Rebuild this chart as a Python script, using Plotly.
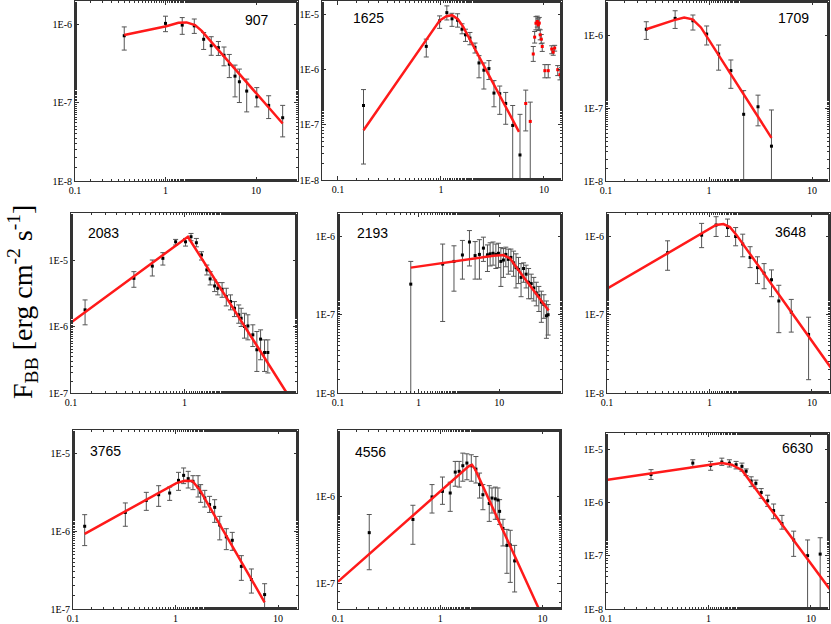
import plotly.graph_objects as go

# ---- data: energy (x) and F_BB (y) with error bounds ----

# GRB 907
x_907 = [0.35, 1.0, 1.53, 2.08, 2.64, 3.2, 3.84, 4.43, 5.07, 5.86, 6.55, 7.89, 10.2, 13.8, 19.7]
y_907 = [7.1e-7, 1.02e-6, 9.7e-7, 9.5e-7, 6.4e-7, 5.3e-7, 5.0e-7, 4.0e-7, 3.08e-7, 2.17e-7, 1.84e-7, 1.40e-7, 1.18e-7, 9.2e-8, 6.4e-8]
hi_907 = [9.2e-7, 1.26e-6, 1.21e-6, 1.16e-6, 7.8e-7, 6.9e-7, 6.0e-7, 5.1e-7, 4.1e-7, 3.0e-7, 2.67e-7, 1.99e-7, 1.55e-7, 1.22e-7, 9.2e-8]
lo_907 = [4.66e-7, 8.0e-7, 7.4e-7, 7.6e-7, 4.75e-7, 4.0e-7, 3.98e-7, 2.94e-7, 2.08e-7, 1.18e-7, 1.0e-7, 7.6e-8, 8.8e-8, 6.25e-8, 3.65e-8]
fx_907 = [0.35, 1.02, 1.39, 1.71, 2.12, 2.51, 19.7]
fy_907 = [7.24e-7, 9.4e-7, 1.04e-6, 1.05e-6, 9.7e-7, 8.2e-7, 5.4e-8]

# GRB 1625 (black points + red points above ~6 keV)
x_1625 = [0.177, 0.72, 0.97, 1.14, 1.28, 1.45, 1.6, 1.73, 1.91, 2.14, 2.34, 2.61, 2.92, 3.27, 3.72, 4.25, 4.97, 5.85]
y_1625 = [2.26e-7, 2.68e-6, 7.8e-6, 1.1e-5, 8.5e-6, 8.0e-6, 5.5e-6, 4.35e-6, 3.8e-6, 2.57e-6, 1.34e-6, 9.9e-7, 1.06e-6, 3.8e-7, 3.7e-7, 2.46e-7, 9.8e-8, 2.85e-8]
hi_1625 = [4.4e-7, 3.63e-6, 9.6e-6, 1.46e-5, 1.07e-5, 1.05e-5, 6.9e-6, 5.5e-6, 4.8e-6, 3.08e-6, 1.82e-6, 1.34e-6, 1.48e-6, 6.4e-7, 5.1e-7, 3.9e-7, 2.26e-7, 1.56e-7]
lo_1625 = [1.95e-8, 1.72e-6, 5.7e-6, 8.1e-6, 6.2e-6, 6.0e-6, 4.54e-6, 3.3e-6, 2.87e-6, 2.03e-6, 7.2e-7, 4.5e-7, 6.7e-7, 2.14e-7, 1.56e-7, 1.03e-7, 1e-9, 1e-9]
xr_1625 = [6.65, 7.36, 7.87, 8.12, 8.36, 8.61, 8.8, 9.0, 9.2, 9.41, 9.62, 10.2, 11.0, 11.9, 12.3, 12.7, 13.6, 14.3, 14.8]
yr_1625 = [2.46e-7, 1.16e-7, 1.95e-6, 3.95e-6, 7.07e-6, 7.6e-6, 6.6e-6, 7.1e-6, 4.35e-6, 3.63e-6, 2.67e-6, 9.7e-7, 9.7e-7, 2.4e-6, 2.11e-6, 2.5e-6, 1.01e-6, 8.2e-7, 9.06e-7]
hir_1625 = [4.3e-7, 2.6e-7, 2.67e-6, 5.0e-6, 9.3e-6, 9.5e-6, 8.5e-6, 9.0e-6, 5.36e-6, 4.4e-6, 3.08e-6, 1.25e-6, 1.25e-6, 2.75e-6, 2.45e-6, 2.8e-6, 1.2e-6, 1.0e-6, 1.1e-6]
lor_1625 = [7.8e-8, 1e-9, 1.43e-6, 3.08e-6, 5.36e-6, 6.0e-6, 5.2e-6, 5.5e-6, 3.53e-6, 3.0e-6, 2.17e-6, 7.2e-7, 7.2e-7, 1.97e-6, 1.85e-6, 2.2e-6, 7.9e-7, 6.6e-7, 7.4e-7]
fx_1625 = [0.177, 0.97, 1.13, 1.28, 1.46, 1.64, 5.72]
fy_1625 = [8.0e-8, 7.9e-6, 9.5e-6, 9.9e-6, 8.35e-6, 6.15e-6, 7.5e-8]

# GRB 1709
x_1709 = [0.246, 0.469, 0.698, 0.949, 1.24, 1.63, 2.17, 2.99, 4.04]
y_1709 = [1.2e-6, 1.69e-6, 1.57e-6, 1.03e-6, 5.5e-7, 3.25e-7, 8.2e-8, 1.04e-7, 3.0e-8]
hi_1709 = [1.52e-6, 2.15e-6, 1.88e-6, 1.33e-6, 7.3e-7, 4.55e-7, 1.73e-7, 1.5e-7, 9.4e-8]
lo_1709 = [8.7e-7, 1.23e-6, 1.17e-6, 7.3e-7, 3.3e-7, 1.86e-7, 1e-9, 5.7e-8, 1e-9]
fx_1709 = [0.246, 0.458, 0.574, 0.692, 0.835, 4.04]
fy_1709 = [1.2e-6, 1.6e-6, 1.73e-6, 1.64e-6, 1.27e-6, 3.9e-8]

# GRB 2083
x_2083 = [0.133, 0.358, 0.52, 0.644, 0.834, 1.02, 1.14, 1.27, 1.41, 1.57, 1.68, 1.84, 1.96, 2.14, 2.33, 2.54, 2.75, 3.0, 3.15, 3.37, 3.61, 3.99, 4.33, 4.67, 5.06, 5.41]
y_2083 = [1.78e-6, 5.3e-6, 8.1e-6, 1.06e-5, 1.88e-5, 1.88e-5, 2.24e-5, 1.82e-5, 1.19e-5, 7.1e-6, 5.2e-6, 4.07e-6, 3.76e-6, 3.63e-6, 2.82e-6, 2.37e-6, 1.88e-6, 1.5e-6, 1.33e-6, 1.0e-6, 1.02e-6, 7.5e-7, 4.47e-7, 6.46e-7, 4.07e-7, 4.07e-7]
hi_2083 = [2.51e-6, 6.68e-6, 1.0e-5, 1.29e-5, 2.04e-5, 2.11e-5, 2.51e-5, 2.11e-5, 1.33e-5, 8.4e-6, 6.68e-6, 5.0e-6, 4.57e-6, 4.57e-6, 3.76e-6, 2.99e-6, 2.37e-6, 2.11e-6, 1.88e-6, 1.58e-6, 1.5e-6, 1.06e-6, 8.4e-7, 8.9e-7, 6.3e-7, 6.3e-7]
lo_2083 = [1.06e-6, 3.89e-6, 5.75e-6, 8.4e-6, 1.68e-5, 1.62e-5, 1.95e-5, 1.58e-5, 1.0e-5, 5.96e-6, 4.22e-6, 3.35e-6, 2.99e-6, 2.75e-6, 2.04e-6, 1.78e-6, 1.41e-6, 1.12e-6, 1.0e-6, 6.68e-7, 6.3e-7, 5.0e-7, 2.11e-7, 3.16e-7, 2.11e-7, 2.0e-7]
fx_2083 = [0.1, 1.07, 7.94]
fy_2083 = [1.15e-6, 2.24e-5, 1.0e-7]

# GRB 2193
x_2193 = [0.80, 1.99, 2.75, 3.5, 4.28, 5.03, 5.69, 6.38, 7.16, 7.73, 8.4, 9.1, 9.8, 10.5, 11.3, 12.1, 13.0, 14.0, 15.1, 16.2, 17.4, 18.7, 20.1, 21.6, 23.2, 25.0, 26.9, 28.9, 31.1, 33.4, 35.9, 38.6, 40.5]
y_2193 = [2.46e-7, 4.44e-7, 4.8e-7, 5.8e-7, 8.5e-7, 5.7e-7, 5.9e-7, 7.1e-7, 5.83e-7, 6.0e-7, 6.1e-7, 5.9e-7, 6.1e-7, 4.8e-7, 5.0e-7, 5.9e-7, 5.1e-7, 5.4e-7, 4.6e-7, 4.0e-7, 3.8e-7, 3.0e-7, 3.9e-7, 3.3e-7, 2.6e-7, 2.5e-7, 2.2e-7, 1.9e-7, 1.75e-7, 1.45e-7, 1.35e-7, 9.7e-8, 1.0e-7]
hi_2193 = [4.8e-7, 8.0e-7, 7.6e-7, 8.9e-7, 1.19e-6, 8.6e-7, 9.1e-7, 9.8e-7, 7.8e-7, 8.3e-7, 8.5e-7, 8.0e-7, 8.2e-7, 7.2e-7, 7.0e-7, 7.3e-7, 6.9e-7, 6.9e-7, 6.5e-7, 6.0e-7, 5.4e-7, 4.5e-7, 4.6e-7, 4.3e-7, 3.9e-7, 3.3e-7, 3.0e-7, 2.6e-7, 2.3e-7, 2.0e-7, 1.8e-7, 1.5e-7, 1.35e-7]
lo_2193 = [1e-9, 8.2e-8, 2.0e-7, 2.85e-7, 4.2e-7, 2.85e-7, 2.85e-7, 4.8e-7, 3.57e-7, 4.2e-7, 4.3e-7, 3.9e-7, 4.0e-7, 2.3e-7, 3.0e-7, 4.1e-7, 3.3e-7, 3.6e-7, 3.1e-7, 2.2e-7, 2.5e-7, 1.7e-7, 2.6e-7, 2.2e-7, 1.6e-7, 1.6e-7, 1.5e-7, 1.3e-7, 1.1e-7, 8e-8, 9e-8, 5e-8, 5.5e-8]
fx_2193 = [0.80, 8.5, 11.3, 13.7, 16.6, 41.1]
fy_2193 = [4.0e-7, 5.67e-7, 5.78e-7, 5.24e-7, 3.95e-7, 1.13e-7]

# GRB 3648
x_3648 = [0.39, 0.838, 1.16, 1.5, 1.8, 2.11, 2.49, 2.94, 3.41, 4.03, 4.75, 6.28, 9.27]
y_3648 = [6.2e-7, 1.04e-6, 1.4e-6, 1.3e-6, 1.0e-6, 8.0e-7, 5.4e-7, 4.0e-7, 3.4e-7, 2.8e-7, 1.5e-7, 1.08e-7, 5.6e-8]
hi_3648 = [8.8e-7, 1.47e-6, 1.79e-6, 1.67e-6, 1.3e-6, 1.07e-6, 7.4e-7, 5.5e-7, 4.5e-7, 3.74e-7, 2.38e-7, 1.57e-7, 9.3e-8]
lo_3648 = [3.7e-7, 7.2e-7, 1.0e-6, 1.0e-6, 7.6e-7, 5.5e-7, 4.0e-7, 2.5e-7, 2.15e-7, 1.7e-7, 5.9e-8, 6.0e-8, 1.48e-8]
fx_3648 = [0.1, 0.937, 1.16, 1.37, 1.58, 1.84, 15.3]
fy_3648 = [2.15e-7, 1.18e-6, 1.4e-6, 1.44e-6, 1.32e-6, 1.04e-6, 2.1e-8]

# GRB 3765
x_3765 = [0.13, 0.324, 0.519, 0.685, 0.877, 1.07, 1.2, 1.33, 1.48, 1.66, 1.76, 1.93, 2.15, 2.41, 2.7, 3.13, 3.58, 4.39, 5.5, 7.4]
y_3765 = [1.15e-6, 1.73e-6, 2.47e-6, 2.92e-6, 3.07e-6, 4.46e-6, 5.17e-6, 4.69e-6, 4.33e-6, 3.66e-6, 3.13e-6, 2.65e-6, 2.18e-6, 2.01e-6, 1.19e-6, 8.4e-7, 7.6e-7, 3.52e-7, 2.38e-7, 1.53e-7]
hi_3765 = [1.62e-6, 2.29e-6, 3.13e-6, 3.81e-6, 3.66e-6, 5.65e-6, 6.43e-6, 5.82e-6, 5.12e-6, 5.12e-6, 3.93e-6, 3.32e-6, 2.78e-6, 2.52e-6, 1.54e-6, 1.07e-6, 9.6e-7, 4.83e-7, 3.26e-7, 2.11e-7]
lo_3765 = [6.5e-7, 1.15e-6, 1.84e-6, 2.07e-6, 2.47e-6, 3.32e-6, 4.05e-6, 3.56e-6, 3.39e-6, 2.73e-6, 2.33e-6, 2.03e-6, 1.73e-6, 1.29e-6, 7.7e-7, 5.77e-7, 5.65e-7, 2.33e-7, 1.6e-7, 1.0e-7]
fx_3765 = [0.13, 1.02, 1.23, 1.46, 1.72, 7.4]
fy_3765 = [9.2e-7, 4.12e-6, 4.41e-6, 4.37e-6, 3.39e-6, 1.22e-7]

# GRB 4556
x_4556 = [0.202, 0.54, 0.83, 1.05, 1.25, 1.4, 1.53, 1.66, 1.82, 2.01, 2.23, 2.42, 2.61, 3.01, 3.2, 3.45, 3.66, 3.8, 4.1, 4.48, 4.83, 5.33]
y_4556 = [3.85e-7, 5.47e-7, 1.0e-6, 1.16e-6, 1.11e-6, 1.94e-6, 1.98e-6, 2.3e-6, 2.47e-6, 2.3e-6, 2.1e-6, 1.39e-6, 1.06e-6, 8.4e-7, 9.7e-7, 9.5e-7, 9.2e-7, 6.8e-7, 4.3e-7, 2.74e-7, 2.77e-7, 1.81e-7]
hi_4556 = [6.25e-7, 8.0e-7, 1.39e-6, 1.7e-6, 1.48e-6, 2.58e-6, 2.58e-6, 3.22e-6, 3.16e-6, 3.08e-6, 2.94e-6, 1.89e-6, 1.39e-6, 1.35e-6, 1.27e-6, 1.3e-6, 1.27e-6, 9.3e-7, 5.5e-7, 4.2e-7, 4.1e-7, 2.74e-7]
lo_4556 = [1.43e-7, 2.82e-7, 6.5e-7, 8.2e-7, 6.8e-7, 1.33e-6, 1.3e-6, 1.52e-6, 1.58e-6, 1.52e-6, 1.45e-6, 9.7e-7, 7.1e-7, 5.2e-7, 6.5e-7, 5.5e-7, 5.5e-7, 4.8e-7, 2.7e-7, 1.3e-7, 1.02e-7, 7.9e-8]
fx_4556 = [0.1, 1.89, 2.04, 2.2, 9.14]
fy_4556 = [1.04e-7, 2.26e-6, 2.36e-6, 2.07e-6, 5.1e-8]

# GRB 6630
x_6630 = [0.275, 0.703, 1.05, 1.35, 1.6, 1.86, 2.12, 2.33, 2.61, 2.9, 3.27, 3.78, 4.32, 5.21, 6.78, 9.27, 12.3]
y_6630 = [3.32e-6, 5.44e-6, 4.93e-6, 5.69e-6, 5.44e-6, 5.08e-6, 4.73e-6, 3.83e-6, 2.51e-6, 2.27e-6, 1.53e-6, 1.07e-6, 7.0e-7, 4.0e-7, 1.97e-7, 1.0e-7, 1.07e-7]
hi_6630 = [4.1e-6, 6.28e-6, 5.85e-6, 6.73e-6, 6.28e-6, 5.85e-6, 5.44e-6, 4.23e-6, 3.01e-6, 2.61e-6, 1.81e-6, 1.36e-6, 9.3e-7, 5.69e-7, 2.88e-7, 1.97e-7, 2.17e-7]
lo_6630 = [2.69e-6, 4.6e-6, 3.99e-6, 4.93e-6, 4.6e-6, 4.23e-6, 3.83e-6, 3.18e-6, 1.97e-6, 1.81e-6, 1.19e-6, 8.4e-7, 4.93e-7, 3.14e-7, 9.7e-8, 1e-9, 1e-9]
fx_6630 = [0.1, 1.04, 1.35, 1.69, 2.12, 15.2]
fy_6630 = [2.61e-6, 5.08e-6, 5.44e-6, 5.08e-6, 4.0e-6, 2.37e-8]

x_ticks = [0.1, 1, 10]
x_ticktext = ['0.1', '1', '10']
y_ticks = [1e-8, 1e-7, 1e-6, 1e-5]
y_ticktext = ['1E-8', '1E-7', '1E-6', '1E-5']

# ---- layout: panel boxes in pixels (left, right, top, bottom) and log ranges ----
W, H = 831, 624

panels = [
    # name, data, box px, x range (log), y range (log), label px
    ('907', (x_907, y_907, hi_907, lo_907, fx_907, fy_907), (75, 298, 1, 181), (-1, 1.464), (-8, -5.706), (257, 20)),
    ('1625', (x_1625, y_1625, hi_1625, lo_1625, fx_1625, fy_1625), (322, 562, 1, 180), (-1.155, 1.175), (-8, -4.747), (368, 18)),
    ('1709', (x_1709, y_1709, hi_1709, lo_1709, fx_1709, fy_1709), (606, 829, 1, 181), (-1, 1.165), (-8, -5.534), (793, 18)),
    ('2083', (x_2083, y_2083, hi_2083, lo_2083, fx_2083, fy_2083), (71, 297, 213, 393), (-1, 0.99), (-7, -4.293), (103, 233)),
    ('2193', (x_2193, y_2193, hi_2193, lo_2193, fx_2193, fy_2193), (338, 562, 213, 393), (-1, 1.78), (-8, -5.7), (372, 233)),
    ('3648', (x_3648, y_3648, hi_3648, lo_3648, fx_3648, fy_3648), (607, 830, 213, 393), (-1, 1.176), (-8, -5.7), (790, 232)),
    ('3765', (x_3765, y_3765, hi_3765, lo_3765, fx_3765, fy_3765), (73, 298, 430, 609), (-1, 1.195), (-7, -4.705), (105, 451)),
    ('4556', (x_4556, y_4556, hi_4556, lo_4556, fx_4556, fy_4556), (338, 561, 430, 609), (-1, 1.18), (-7.3, -5.224), (370, 452)),
    ('6630', (x_6630, y_6630, hi_6630, lo_6630, fx_6630, fy_6630), (606, 829, 433, 609), (-1, 1.176), (-8, -4.70), (797, 448)),
]

AX_COLOR = '#333333'
BAR_COLOR = '#555555'
tick_font = dict(family='Liberation Serif, Times New Roman, serif', size=10, color='black')


def err(y, hi, lo):
    up = [h - v for h, v in zip(hi, y)]
    down = [v - l for v, l in zip(y, lo)]
    return dict(type='data', symmetric=False, array=up, arrayminus=down,
                color=BAR_COLOR, thickness=1, width=2.5)


fig = go.Figure()
annotations = []

for i, (name, data, box, xr, yr, lab) in enumerate(panels):
    n = '' if i == 0 else str(i + 1)
    xa, ya = 'x' + n, 'y' + n
    x, y, hi, lo, fx, fy = data
    l, r, t, b = box

    fig.add_trace(go.Scatter(x=x, y=y, mode='markers', xaxis=xa, yaxis=ya,
                             marker=dict(symbol='square', size=3, color='black'),
                             error_y=err(y, hi, lo), showlegend=False))
    if name == '1625':
        fig.add_trace(go.Scatter(x=xr_1625, y=yr_1625, mode='markers', xaxis=xa, yaxis=ya,
                                 marker=dict(symbol='square', size=3, color='red'),
                                 error_y=err(yr_1625, hir_1625, lor_1625), showlegend=False))
    fig.add_trace(go.Scatter(x=fx, y=fy, mode='lines', xaxis=xa, yaxis=ya,
                             line=dict(color='#ff1a1a', width=2.5), showlegend=False))

    common = dict(type='log', showline=True, linecolor=AX_COLOR, linewidth=1, mirror='allticks',
                  ticks='inside', ticklen=4, tickcolor=AX_COLOR, showgrid=False, zeroline=False,
                  tickfont=tick_font, tickmode='array', automargin=False,
                  minor=dict(ticks='inside', ticklen=2, tickcolor=AX_COLOR, showgrid=False))
    fig.update_layout(**{
        'xaxis' + n: dict(common, domain=[l / W, r / W], range=list(xr), anchor=ya,
                          tickvals=x_ticks, ticktext=x_ticktext),
        'yaxis' + n: dict(common, domain=[1 - b / H, 1 - t / H], range=list(yr), anchor=xa,
                          tickvals=y_ticks, ticktext=y_ticktext),
    })
    annotations.append(dict(text=name, x=lab[0] / W, y=1 - lab[1] / H, xref='paper', yref='paper',
                            showarrow=False, xanchor='center', yanchor='middle',
                            font=dict(family='Liberation Sans, Arial, sans-serif', size=14, color='black')))

annotations.append(dict(text='F<sub>BB</sub> [erg cm<sup>-2</sup> s<sup>-1</sup>]',
                        x=22 / W, y=1 - 302 / H, xref='paper', yref='paper', showarrow=False,
                        textangle=-90, xanchor='center', yanchor='middle',
                        font=dict(family='Liberation Serif, Times New Roman, serif', size=28, color='black')))

fig.update_layout(width=W, height=H, margin=dict(l=0, r=0, t=0, b=0),
                  paper_bgcolor='white', plot_bgcolor='white', annotations=annotations)

# drop the default page margin so the figure sits at the window's corner
fig.write_html("out.html", config={'displayModeBar': False},
               post_script="document.body.style.margin='0';document.body.style.overflow='hidden';")
